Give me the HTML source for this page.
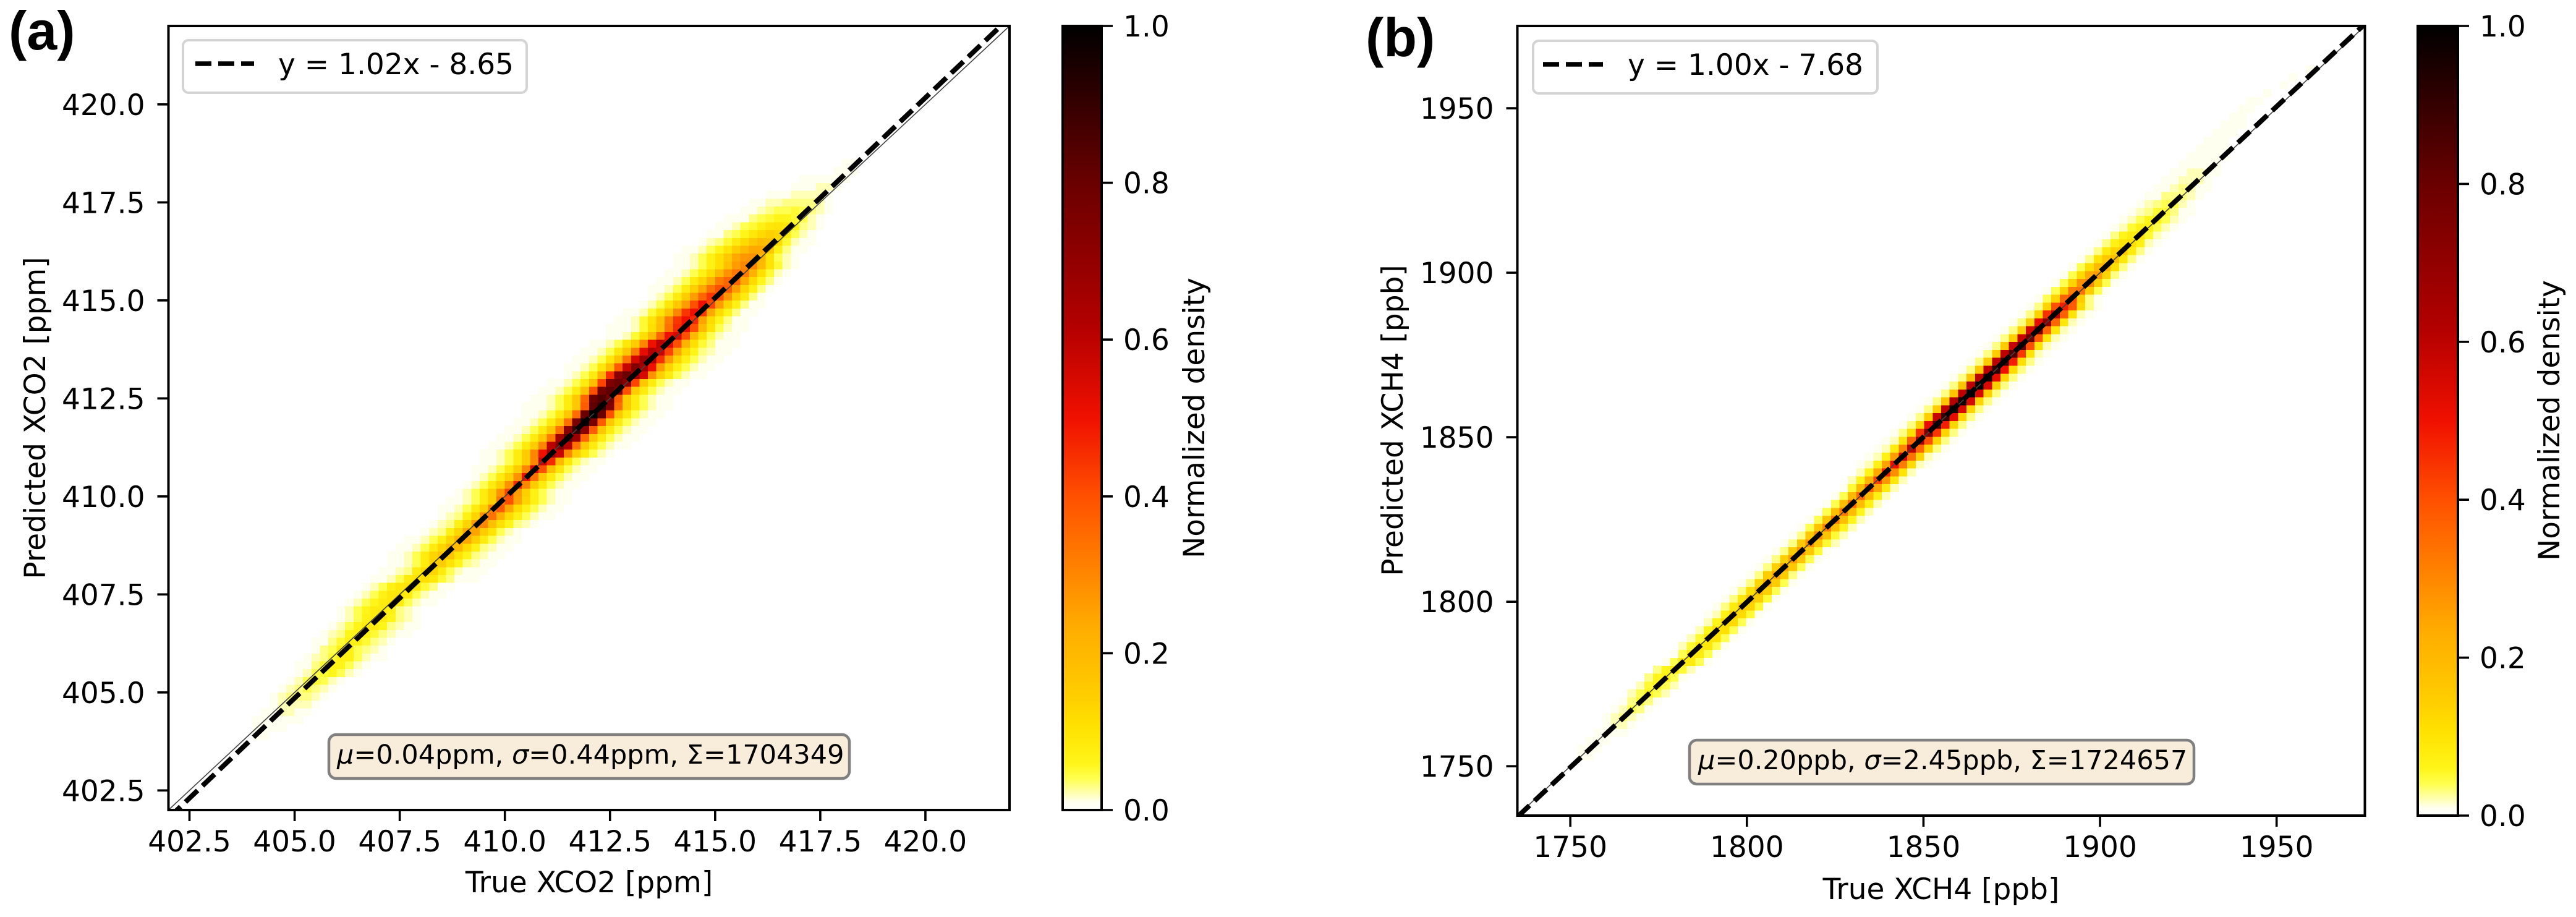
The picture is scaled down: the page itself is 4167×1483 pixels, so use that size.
<!DOCTYPE html>
<html lang="en">
<head>
<meta charset="utf-8">
<title>Predicted vs true XCO2 and XCH4 density</title>
<style>
html,body{margin:0;padding:0;background:#fff;}
svg{display:block;}
text{font-family:"DejaVu Sans","Liberation Sans",sans-serif;font-size:47px;fill:#000;}
.panel-letter{font-family:"Liberation Sans",sans-serif;font-weight:bold;font-size:88px;}
.stat{font-size:43px;}
</style>
</head>
<body>
<svg id="figure" xmlns="http://www.w3.org/2000/svg" width="4167" height="1483" viewBox="0 0 4167 1483">
<defs>
<clipPath id="clip-a"><rect x="272.5" y="42" width="1360.5" height="1268"/></clipPath>
<clipPath id="clip-b"><rect x="2454.5" y="42" width="1371" height="1277"/></clipPath>
<linearGradient id="cbar-gradient" x1="0" y1="1" x2="0" y2="0"></linearGradient>
</defs>
<rect x="0" y="0" width="4167" height="1483" fill="#fff"/>

<g id="panel-a">
<text class="panel-letter" x="14" y="80">(a)</text>
<g id="a-heat" clip-path="url(#clip-a)"></g>
<g id="a-lines" clip-path="url(#clip-a)"></g>
<rect x="272.5" y="42" width="1360.5" height="1268" fill="none" stroke="#000" stroke-width="4"/>
<g id="a-ticks"></g>
<text x="953" y="1443" text-anchor="middle">True XCO2 [ppm]</text>
<text transform="translate(73 676) rotate(-90)" text-anchor="middle">Predicted XCO2 [ppm]</text>
<g>
<rect x="296" y="65" width="556" height="85" rx="9" fill="#fff" stroke="#d4d4d4" stroke-width="4"/>
<line x1="316" y1="103" x2="411" y2="103" stroke="#000" stroke-width="7.5" stroke-dasharray="26 11"/>
<text x="450" y="120">y = 1.02x - 8.65</text>
</g>
<g>
<rect x="532" y="1188" width="842" height="71" rx="12" fill="#f7edda" stroke="#808080" stroke-width="4.5"/>
<text class="stat" x="545" y="1235"><tspan font-style="italic">μ</tspan>=0.04ppm, <tspan font-style="italic">σ</tspan>=0.44ppm, Σ=1704349</text>
</g>
<rect x="1719" y="42" width="63" height="1268" fill="url(#cbar-gradient)" stroke="#000" stroke-width="4"/>
<g id="a-cbar"></g>
<text transform="translate(1948 676) rotate(-90)" text-anchor="middle">Normalized density</text>
</g>

<g id="panel-b">
<text class="panel-letter" x="2209" y="91">(b)</text>
<g id="b-heat" clip-path="url(#clip-b)"></g>
<g id="b-lines" clip-path="url(#clip-b)"></g>
<rect x="2454.5" y="42" width="1371" height="1277" fill="none" stroke="#000" stroke-width="4"/>
<g id="b-ticks"></g>
<text x="3140" y="1454" text-anchor="middle">True XCH4 [ppb]</text>
<text transform="translate(2269 680) rotate(-90)" text-anchor="middle">Predicted XCH4 [ppb]</text>
<g>
<rect x="2480" y="66" width="557" height="85" rx="9" fill="#fff" stroke="#d4d4d4" stroke-width="4"/>
<line x1="2496" y1="104" x2="2593" y2="104" stroke="#000" stroke-width="7.5" stroke-dasharray="26 11"/>
<text x="2633" y="121">y = 1.00x - 7.68</text>
</g>
<g>
<rect x="2733" y="1197" width="816" height="71" rx="12" fill="#f7edda" stroke="#808080" stroke-width="4.5"/>
<text class="stat" x="2747" y="1244"><tspan font-style="italic">μ</tspan>=0.20ppb, <tspan font-style="italic">σ</tspan>=2.45ppb, Σ=1724657</text>
</g>
<rect x="3911" y="42" width="65" height="1277" fill="url(#cbar-gradient)" stroke="#000" stroke-width="4"/>
<g id="b-cbar"></g>
<text transform="translate(4140 680) rotate(-90)" text-anchor="middle">Normalized density</text>
</g>
</svg>

<script>
// Tick labels
const xco2Ticks = [402.5,405,407.5,410,412.5,415,417.5,420];
const xch4Ticks = [1750,1800,1850,1900,1950];
const colorbarTicks = [0,0.2,0.4,0.6,0.8,1];

// Fit lines
const xco2Fit = [1.021,-8.65];
const xch4Fit = [1.0042,-7.68];

// Colormap
const cmapLevels = [0,0.01,0.02,0.04,0.06,0.076,0.11,0.14,0.19,0.23,0.4,0.5,0.615,0.8,0.9,1];
const cmapColors = ['#ffffff','#fffff0','#ffffb8','#ffff50','#fff518','#ffee10','#ffe000','#ffd000','#ffbc00','#ffae00','#ff5000','#f01000','#b40000','#6a0000','#350000','#000000'];

// XCO2 histogram: first row index, first occupied column of each row, density (percent of max)
const xco2FirstRow = 9;
const xco2FirstCol = [10,10,10,11,12,12,13,14,15,15,16,17,17,18,19,20,20,21,22,23,24,25,26,26,27,28,30,31,32,32,33,34,35,36,36,37,37,38,39,40,41,42,42,43,44,45,47,47,48,49,50,52,52,53,54,56,57,57,58,59,60,60,61,63,64,65,66,68,69,71,74,75,79,80];
const xco2Density = [
[1,1],
[1,1,1,1],
[1,1,1,1,1,1],
[1,1,2,2,1,1],
[1,2,2,2,2,1],
[1,2,3,3,3,2,1],
[1,2,3,4,3,2,1],
[1,2,4,5,4,2,1],
[1,2,4,5,6,4,2,1],
[1,1,3,5,6,6,4,2,1],
[1,2,3,5,7,7,4,2,1,1],
[1,3,4,7,7,4,3,2,1],
[1,1,3,5,7,7,5,3,2,1],
[1,2,3,6,7,7,5,3,2,1,1],
[1,2,4,6,8,8,6,3,2,1,1],
[1,2,4,7,8,8,6,3,2,1],
[1,2,4,6,8,8,7,3,2,1],
[1,2,4,6,8,9,8,4,2,1,1],
[1,2,4,7,9,9,8,4,2,1,1],
[1,2,4,7,9,10,9,5,3,1,1],
[1,1,2,4,8,10,11,9,5,3,1,1,1],
[1,1,2,3,8,12,13,8,4,2,1,1,1],
[1,1,2,4,8,14,15,10,6,3,2,1,1],
[1,1,2,4,8,13,17,17,10,6,3,2,1,1],
[1,1,2,4,8,13,19,20,12,7,3,2,1,1],
[1,1,2,4,7,13,21,24,14,8,4,2,1,1],
[1,2,3,7,13,24,25,15,10,4,2,1],
[1,2,3,7,13,26,30,18,11,6,3,2,1],
[1,2,3,7,13,28,34,22,12,7,4,2,1,1],
[1,1,2,4,8,14,30,38,24,12,7,4,2,1,1],
[1,1,2,4,8,14,32,40,25,13,7,4,2,1,1],
[1,2,4,8,14,28,42,26,14,7,4,2,1,1],
[1,2,4,8,14,28,46,30,15,8,4,2,1,1],
[1,2,4,8,14,28,50,34,16,8,4,2,1,1],
[1,1,2,4,8,15,30,54,40,18,9,4,2,1,1],
[1,1,2,4,8,15,30,58,46,20,9,4,2,1,1],
[1,1,2,4,8,15,30,50,66,58,30,15,8,4,2,1],
[1,1,2,4,8,15,30,60,74,62,34,16,8,4,2,1,1],
[1,1,2,4,8,16,32,66,82,68,36,16,8,4,2,1,1],
[1,1,2,4,8,16,34,72,90,72,38,16,8,4,2,1,1],
[1,1,2,4,8,16,34,76,96,76,38,16,8,4,2,1,1],
[1,1,2,4,8,16,35,80,100,80,40,16,8,4,2,1,1],
[1,1,1,2,4,8,16,38,82,90,75,35,15,8,4,2,1,1],
[1,1,2,4,8,16,36,80,85,78,38,15,8,4,2,1,1],
[1,1,2,4,8,18,40,78,82,76,40,15,8,4,2,1,1],
[1,1,2,4,8,18,42,75,80,72,42,16,8,4,2,1,1],
[1,2,4,8,22,45,72,80,66,55,28,14,8,4,2,1,1],
[1,1,2,4,9,18,38,58,74,66,50,26,13,7,4,2,1,1],
[1,1,2,4,9,17,34,55,68,62,45,26,13,7,4,2,1,1],
[1,1,2,4,9,16,32,52,62,58,42,24,12,6,3,2,1,1],
[1,1,2,4,9,15,30,50,60,52,40,22,11,5,3,1,1,1],
[1,1,2,5,11,20,36,50,55,40,20,10,4,2,1,1],
[1,1,1,2,5,11,19,34,46,52,40,20,10,4,2,1,1],
[1,1,2,5,10,18,32,44,50,46,25,12,6,3,1,1],
[1,1,2,5,10,17,30,44,50,44,24,12,6,3,1,1],
[1,2,4,9,16,26,40,50,42,26,13,7,3,1,1],
[1,2,4,8,15,26,36,44,40,27,14,8,3,1],
[1,1,2,4,8,14,24,34,40,38,26,13,7,3,1],
[1,1,2,4,8,13,22,32,36,36,24,12,6,3,1],
[1,1,2,4,7,12,20,28,33,32,22,11,5,2,1],
[1,1,2,4,7,11,18,26,30,30,20,10,5,2,1],
[1,1,2,4,7,11,16,24,27,28,21,10,4,2,1],
[1,1,2,4,6,10,15,20,24,24,16,7,3,1,1],
[1,2,3,5,8,12,16,19,18,12,5,2,1,1],
[1,1,3,4,6,9,12,14,13,8,4,2,1],
[1,1,2,4,5,7,9,10,9,6,3,2,1],
[1,1,1,3,4,5,6,6,5,4,2,1],
[1,1,2,3,4,4,5,4,3,2,1],
[1,1,2,2,3,3,3,3,2,1],
[1,1,1,2,2,2,2,1],
[1,1,1,2,2,1],
[1,1,1,1,1,1],
[1,1,1],
[1,1]
];

// XCH4 histogram
const xch4FirstRow = 7;
const xch4FirstCol = [7,7,8,9,10,10,11,12,13,14,15,16,17,18,19,20,21,22,22,23,24,25,26,27,28,29,30,31,32,33,34,35,36,37,38,39,40,40,41,42,43,44,45,46,47,48,49,50,51,52,53,54,55,56,57,58,59,60,61,62,63,64,65,66,67,68,69,70,71,72,73,74,75,76,77,78,79,80,81,82,83,84,85,86,88,90,91,93];
const xch4Density = [
[1,1],
[1,1,1],
[1,1,1],
[1,1,1,1],
[1,2,2,1],
[1,2,3,2,1],
[1,2,4,3,1],
[1,3,5,3,1],
[2,4,6,4,2],
[2,5,6,4,2],
[3,6,7,4,1],
[3,6,8,5,2],
[1,4,8,8,4,1],
[1,4,8,8,4,1],
[2,5,9,9,4,1],
[2,5,10,10,4,1],
[2,6,11,11,4,1],
[2,6,12,12,4,1],
[1,2,7,14,12,5,1],
[1,3,8,15,13,5,1],
[1,3,9,17,14,5,1],
[1,3,11,20,14,4,1],
[1,3,13,22,15,4,1],
[1,3,15,24,15,3,1],
[1,3,14,25,16,4,1],
[1,3,14,26,16,4,1],
[1,3,15,27,16,5,1],
[1,3,16,28,16,5,2],
[1,3,16,29,17,5,2],
[1,4,17,31,18,6,2],
[1,4,17,32,18,6,2],
[1,4,18,33,19,6,2],
[1,4,19,35,19,7,2],
[1,4,20,36,20,7,2],
[1,5,20,38,24,8,2],
[2,6,22,42,27,9,2],
[2,6,24,47,29,10,2],
[1,2,7,25,50,32,12,2,1],
[1,2,7,26,55,34,13,2,1],
[1,2,8,30,60,36,13,3,1],
[1,2,9,36,66,40,13,3,1],
[1,3,11,45,75,44,13,3,1],
[1,3,13,52,84,48,13,3,1],
[1,3,14,58,90,52,13,3,1],
[1,3,15,60,95,54,13,3,1],
[1,3,16,62,97,55,13,3,1],
[1,3,17,60,100,55,14,3,1],
[1,3,17,60,98,54,14,3,1],
[1,3,17,60,95,52,13,3,1],
[1,3,16,60,92,50,12,3,1],
[1,3,15,60,88,48,11,3,1],
[1,3,15,60,85,44,10,2,1],
[1,3,15,58,82,40,10,2,1],
[1,3,14,58,80,38,9,2,1],
[1,3,14,56,76,36,9,2,1],
[1,3,14,52,72,36,9,2,1],
[1,3,13,45,60,37,10,2,1],
[1,3,13,40,48,38,12,3,1],
[1,4,13,36,40,15,3,1],
[1,4,13,32,34,15,4,1],
[1,4,13,28,30,14,4,1],
[1,4,12,24,26,13,3,1],
[1,4,11,20,22,11,3,1],
[1,3,10,16,18,9,3,1],
[1,3,8,13,15,8,3,1],
[1,3,7,10,11,7,2,1],
[1,3,6,8,9,5,2,1],
[1,2,5,7,7,4,2,1],
[1,2,4,6,6,4,2,1],
[1,2,3,5,5,3,1,1],
[1,2,3,4,4,2,1],
[1,1,3,3,3,2,1],
[1,1,2,3,2,1,1],
[1,1,2,2,2,1],
[1,1,2,2,1,1],
[1,1,1,1,1],
[1,1,1,1,1],
[1,1,1,1],
[1,1,1],
[1,1,1],
[1,1,1],
[1,1],
[1,1],
[1,1],
[1],
[1],
[1],
[1]
];

const SVGNS = 'http://www.w3.org/2000/svg';

function hexToRgb(h){
  return [parseInt(h.slice(1,3),16),parseInt(h.slice(3,5),16),parseInt(h.slice(5,7),16)];
}
function densityColor(v){
  for(let i=1;i<cmapLevels.length;i++){
    if(v<=cmapLevels[i]){
      const t=(v-cmapLevels[i-1])/(cmapLevels[i]-cmapLevels[i-1]);
      const a=hexToRgb(cmapColors[i-1]),b=hexToRgb(cmapColors[i]);
      return 'rgb('+a.map((c,k)=>Math.round(c+(b[k]-c)*t)).join(',')+')';
    }
  }
  return cmapColors[cmapColors.length-1];
}
function makeLinear(d0,d1,r0,r1){
  return function(v){return r0+(v-d0)/(d1-d0)*(r1-r0);};
}
function drawText(parent,x,y,str,anchor,name){
  const t=document.createElementNS(SVGNS,'text');
  t.setAttribute('x',x);
  t.setAttribute('y',y);
  t.setAttribute('text-anchor',anchor);
  
  
  t.textContent=str;
  parent.appendChild(t);
}
function drawLine(parent,x1,y1,x2,y2,w,name,dash,color){
  const l=document.createElementNS(SVGNS,'line');
  l.setAttribute('x1',x1);
  l.setAttribute('y1',y1);
  l.setAttribute('x2',x2);
  l.setAttribute('y2',y2);
  l.setAttribute('stroke',color||'#000');
  l.setAttribute('stroke-width',w);
  if(dash) l.setAttribute('stroke-dasharray',dash);
  
  
  parent.appendChild(l);
}
function drawPanel(cfg){
  const xs=makeLinear(cfg.lim[0],cfg.lim[1],cfg.left,cfg.right);
  const ys=makeLinear(cfg.lim[0],cfg.lim[1],cfg.bottom,cfg.top);
  const bin=(cfg.lim[1]-cfg.lim[0])/100;
  const heat=document.getElementById(cfg.id+'-heat');
  cfg.density.forEach((row,r)=>{
    const j=cfg.firstRow+r;
    row.forEach((val,k)=>{
      const i=cfg.firstCol[r]+k;
      const x0=xs(cfg.lim[0]+bin*i),x1=xs(cfg.lim[0]+bin*(i+1));
      const y0=ys(cfg.lim[0]+bin*(j+1)),y1=ys(cfg.lim[0]+bin*j);
      const c=document.createElementNS(SVGNS,'rect');
      c.setAttribute('x',x0.toFixed(2));
      c.setAttribute('y',y0.toFixed(2));
      c.setAttribute('width',(x1-x0+0.4).toFixed(2));
      c.setAttribute('height',(y1-y0+0.4).toFixed(2));
      c.setAttribute('fill',densityColor(val/100));
      c.setAttribute('shape-rendering','crispEdges');
      
      
      heat.appendChild(c);
    });
  });
  const lines=document.getElementById(cfg.id+'-lines');
  drawLine(lines,xs(cfg.lim[0]),ys(cfg.lim[0]),xs(cfg.lim[1]),ys(cfg.lim[1]),1.6,'identity-line',null,'#444');
  const fy=x=>cfg.fit[0]*x+cfg.fit[1];
  drawLine(lines,xs(cfg.lim[0]),ys(fy(cfg.lim[0])),xs(cfg.lim[1]),ys(fy(cfg.lim[1])),8,'fit-line','27 11');
  const ticks=document.getElementById(cfg.id+'-ticks');
  cfg.ticks.forEach(v=>{
    const label=v.toFixed(cfg.digits);
    drawLine(ticks,xs(v),cfg.bottom,xs(v),cfg.bottom+18,3.6,'x-tick-mark');
    drawText(ticks,xs(v),cfg.bottom+67,label,'middle','x-tick-label');
    drawLine(ticks,cfg.left-18,ys(v),cfg.left,ys(v),3.6,'y-tick-mark');
    drawText(ticks,cfg.left-38,ys(v)+17,label,'end','y-tick-label');
  });
  const cs=makeLinear(0,1,cfg.bottom,cfg.top);
  const cb=document.getElementById(cfg.id+'-cbar');
  colorbarTicks.forEach(v=>{
    drawLine(cb,cfg.cbarRight,cs(v),cfg.cbarRight+18,cs(v),3.6,'colorbar-tick-mark');
    drawText(cb,cfg.cbarRight+35,cs(v)+17,v.toFixed(1),'start','colorbar-tick-label');
  });
}

const gradient=document.getElementById('cbar-gradient');
cmapLevels.forEach((lv,i)=>{
  const s=document.createElementNS(SVGNS,'stop');
  s.setAttribute('offset',lv);
  s.setAttribute('stop-color',cmapColors[i]);
  gradient.appendChild(s);
});

drawPanel({id:'a',lim:[402,422],left:272.5,right:1633,top:42,bottom:1310,density:xco2Density,firstRow:xco2FirstRow,firstCol:xco2FirstCol,fit:xco2Fit,ticks:xco2Ticks,digits:1,cbarRight:1782});
drawPanel({id:'b',lim:[1735,1975],left:2454.5,right:3825.5,top:42,bottom:1319,density:xch4Density,firstRow:xch4FirstRow,firstCol:xch4FirstCol,fit:xch4Fit,ticks:xch4Ticks,digits:0,cbarRight:3976});
</script>
</body>
</html>
